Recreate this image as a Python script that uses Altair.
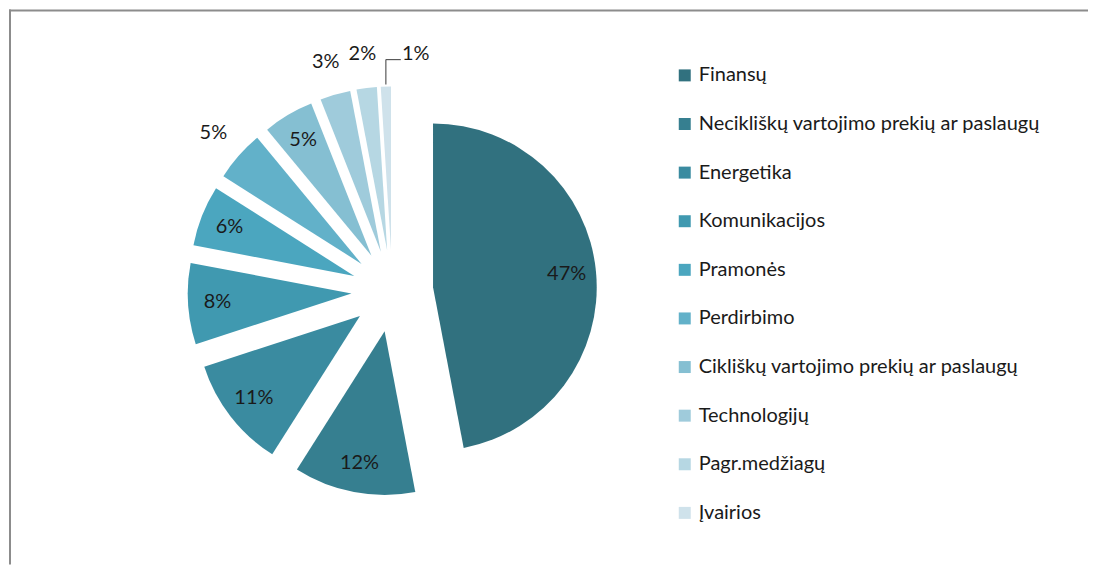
import altair as alt
import pandas as pd

# ---- data ----
categories = [
    "Finansų",
    "Necikliškų vartojimo prekių ar paslaugų",
    "Energetika",
    "Komunikacijos",
    "Pramonės",
    "Perdirbimo",
    "Cikliškų vartojimo prekių ar paslaugų",
    "Technologijų",
    "Pagr.medžiagų",
    "Įvairios",
]
values = [47, 12, 11, 8, 6, 5, 5, 3, 2, 1]

# ---- styles ----
colors = ["#31717F", "#367F90", "#3A8BA0", "#4099B0", "#4BA6BF",
          "#62B1C9", "#85BFD2", "#9FCBDB", "#B6D7E3", "#CFE2EB"]
outside_labels = ["Perdirbimo", "Technologijų", "Pagr.medžiagų", "Įvairios"]
label_angle_shift = {"Įvairios": 0.13}

CX, CY = 384, 282      # pie centre (px)
R = 164                # radius
D = 41                 # explode distance
LR_IN = D + 0.82 * R
LR_OUT = D + R + 34
FONT = "Lato"

df = pd.DataFrame({
    "cat": categories,
    "value": values,
    "order": list(range(len(categories))),
})
df["label"] = [f"{v}%" for v in values]
df["outside"] = df["cat"].isin(outside_labels)
df["shift"] = [label_angle_shift.get(c, 0.0) for c in categories]

base = (
    alt.Chart(df)
    .transform_joinaggregate(total="sum(value)")
    .transform_window(cum="sum(value)", sort=[alt.SortField("order")], frame=[None, 0])
    .transform_calculate(
        t0="2*PI*(datum.cum-datum.value)/datum.total",
        t1="2*PI*datum.cum/datum.total",
    )
    .transform_calculate(mid="(datum.t0+datum.t1)/2")
    .transform_calculate(
        cx=f"{CX}+{D}*sin(datum.mid)",
        cy=f"{CY}-{D}*cos(datum.mid)",
    )
)

arcs = base.mark_arc(radius=R).encode(
    theta=alt.Theta("t0:Q", scale=None, stack=None),
    theta2="t1:Q",
    x=alt.X("cx:Q", scale=None),
    y=alt.Y("cy:Q", scale=None),
    color=alt.Color(
        "cat:N",
        scale=alt.Scale(domain=categories, range=colors),
        sort=categories,
        legend=alt.Legend(
            orient="none", legendX=667, legendY=56, title=None,
            symbolType="square", symbolSize=144, symbolStrokeWidth=0,
            labelFont=FONT, labelFontSize=20, labelColor="#1a1a1a",
            labelOffset=4, labelLimit=600, rowPadding=28.7, padding=0,
        ),
    ),
)

labels_base = base.transform_calculate(
    ang="datum.mid + datum.shift",
    lr=f"datum.outside ? {LR_OUT} : {LR_IN}",
).transform_calculate(
    lx=f"{CX}+datum.lr*sin(datum.ang)",
    ly=f"{CY}-datum.lr*cos(datum.ang)",
)

texts = labels_base.mark_text(font=FONT, fontSize=20, color="#1a1a1a").encode(
    x=alt.X("lx:Q", scale=None),
    y=alt.Y("ly:Q", scale=None),
    text="label:N",
)

leader_base = labels_base.transform_filter("datum.shift != 0").transform_calculate(
    tx=f"datum.cx+{R}*sin(datum.mid)",
    ty=f"datum.cy-{R}*cos(datum.mid)-2",
    hy="datum.ly+6",
    hx2="datum.lx-15",
)
leader_v = leader_base.mark_rule(color="#595959", strokeWidth=1.2).encode(
    x=alt.X("tx:Q", scale=None),
    y=alt.Y("ty:Q", scale=None),
    y2="hy:Q",
)
leader_h = leader_base.mark_rule(color="#595959", strokeWidth=1.2).encode(
    x=alt.X("tx:Q", scale=None),
    x2="hx2:Q",
    y=alt.Y("hy:Q", scale=None),
)

frame_src = alt.Chart(pd.DataFrame({"k": [0]}))
top_line = frame_src.mark_rule(color="#8c8c8c", strokeWidth=2).encode(
    x=alt.value(0), x2=alt.value(1081), y=alt.value(1)
)
left_line = frame_src.mark_rule(color="#8c8c8c", strokeWidth=2).encode(
    x=alt.value(1), y=alt.value(0), y2=alt.value(556)
)

chart = (
    alt.layer(arcs, texts, leader_v, leader_h, top_line, left_line)
    .properties(width=1081, height=556, padding=0)
    .configure_view(stroke=None)
)

chart.save("out.html", embed_options={"renderer": "svg", "actions": False})
